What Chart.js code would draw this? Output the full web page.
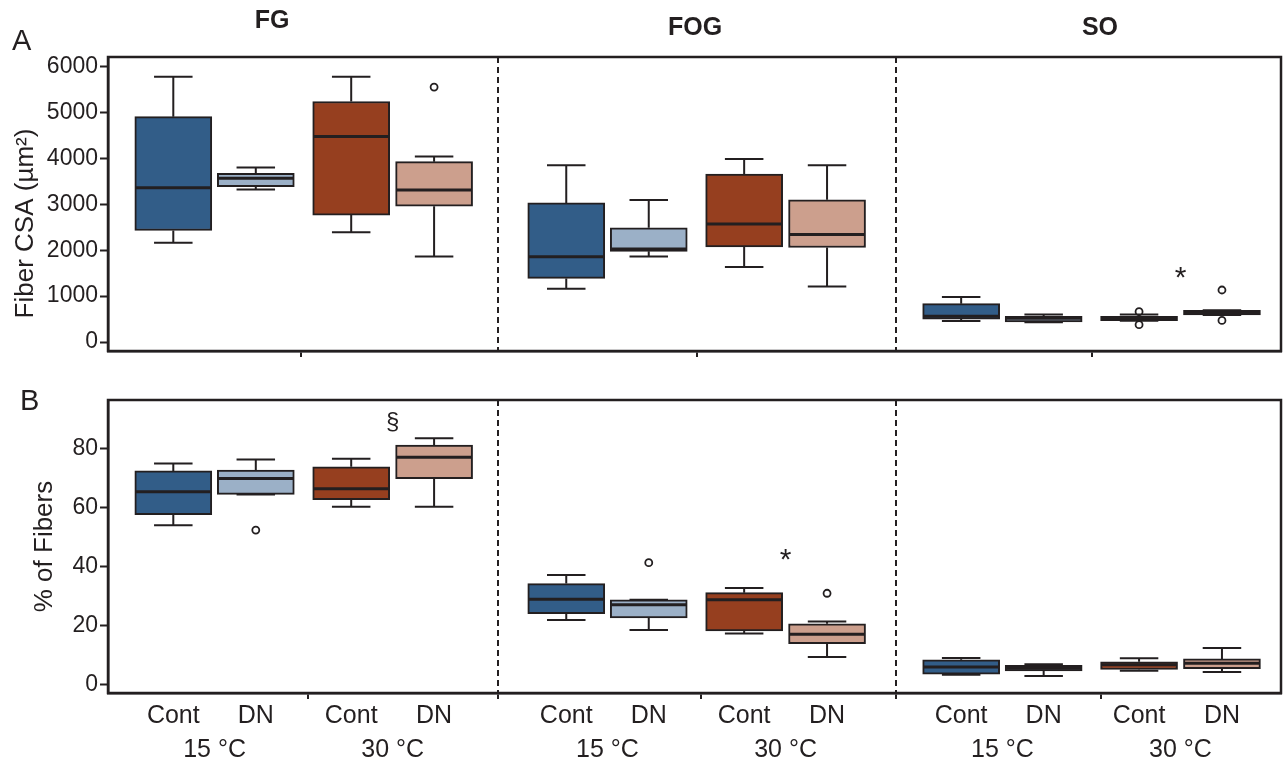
<!DOCTYPE html>
<html>
<head>
<meta charset="utf-8">
<script src="https://cdn.jsdelivr.net/npm/chart.js@4.4.1/dist/chart.umd.min.js"></script>
<style>
  body { margin: 0; background: #fff; font-family: 'Liberation Sans', Arial, sans-serif; color: #231f20; }
  #wrap { position: relative; width: 1283px; height: 765px; overflow: hidden; }
  canvas { position: absolute; left: 0; }
  #csaChart { top: 0; }
  #pctChart { top: 365px; }
  .lbl { position: absolute; line-height: 1; white-space: nowrap; }
  .panel { font-size: 29px; }
  .type { font-size: 25px; font-weight: bold; transform: translateX(-50%); }
</style>
</head>
<body>
<div id="wrap">
  <canvas id="csaChart" width="1283" height="370"></canvas>
  <canvas id="pctChart" width="1283" height="400"></canvas>
  <div class="lbl panel" style="left:12px;top:26px">A</div>
  <div class="lbl panel" style="left:20px;top:386px">B</div>
  <div class="lbl type" style="left:272px;top:7px">FG</div>
  <div class="lbl type" style="left:695px;top:14px">FOG</div>
  <div class="lbl type" style="left:1100px;top:14px">SO</div>
</div>
<script>
var fiberTypes = ['FG', 'FOG', 'SO'];
var groups = ['Cont', 'DN', 'Cont', 'DN'];
var temps = ['15 °C', '30 °C'];
var csaTicks = [0, 1000, 2000, 3000, 4000, 5000, 6000];
var pctTicks = [0, 20, 40, 60, 80];

// each box: [low whisker, q1, median, q3, high whisker]
// order: Cont 15, DN 15, Cont 30, DN 30
var csaFG  = [[2165, 2430, 3360, 4910, 5780], [3325, 3385, 3570, 3675, 3800], [2390, 2765, 4480, 5240, 5780], [1865, 2960, 3310, 3930, 4040]];
var csaFOG = [[1160, 1385, 1860, 3030, 3850], [1865, 1975, 2025, 2490, 3095], [1635, 2070, 2570, 3660, 3985], [1210, 2060, 2340, 3100, 3850]];
var csaSO  = [[460, 500, 560, 835, 980], [430, 440, 520, 560, 600], [465, 465, 515, 560, 600], [590, 590, 640, 690, 690]];
var csaOutFG  = [[], [], [], [5555]];
var csaOutFOG = [[], [], [], []];
var csaOutSO  = [[], [], [660, 377], [1133, 470]];
var csaMarks = [['SO', '*', 1490]];

var pctFG  = [[54.0, 57.6, 65.4, 72.5, 75.0], [64.5, 64.5, 69.9, 72.8, 76.4], [60.3, 62.7, 66.4, 73.9, 76.6], [60.3, 69.9, 77.1, 81.3, 83.6]];
var pctFOG = [[21.8, 24.0, 28.9, 34.2, 37.1], [18.4, 22.5, 27.0, 28.7, 28.7], [17.2, 18.1, 28.7, 31.1, 32.7], [9.2, 13.8, 17.0, 20.5, 21.3]];
var pctSO  = [[3.2, 3.4, 5.8, 8.3, 8.9], [2.8, 4.5, 5.4, 6.4, 6.8], [4.6, 5.0, 6.6, 7.6, 8.8], [4.1, 5.3, 7.1, 8.6, 12.3]];
var pctOutFG  = [[], [52.4], [], []];
var pctOutFOG = [[], [41.3], [], [30.9]];
var pctOutSO  = [[], [], [], []];
var pctMarks = [['FG', '§', 88.9], ['FOG', '*', 43.7]];

var ink = '#231f20';
var clear = 'rgba(0,0,0,0)';
var fills = ['#325d88', '#9bb0c7', '#963f1f', '#cc9f8d'];
var font = "'Liberation Sans', Arial, sans-serif";
Chart.defaults.font.family = font;
Chart.defaults.color = ink;

// x layout: each fiber type gets ~10 units, boxes sit at fixed slots inside
var regionStart = [0, 10.05, 20.15];
var slot = [1.67, 3.78, 6.22, 8.34];
var dividers = [9.97, 20.15];
function xPos(t, g) { return regionStart[t] + slot[g]; }
function isDivider(c) { return !!(c && c.tick && dividers.indexOf(c.tick.value) >= 0); }

var boxPlot = {
    id: 'boxPlot',
    afterDatasetsDraw: function (chart) {
        var ctx = chart.ctx;
        var ys = chart.scales.y;
        chart.data.datasets.forEach(function (ds, i) {
            if (!ds.stats) return;
            chart.getDatasetMeta(i).data.forEach(function (bar, j) {
                var s = ds.stats[j];
                var half = bar.width / 2, cap = bar.width / 4;
                var p = s.map(function (v) { return ys.getPixelForValue(v); });
                ctx.save();
                ctx.strokeStyle = ink;
                ctx.lineWidth = 2;
                ctx.beginPath();
                ctx.moveTo(bar.x, p[3]); ctx.lineTo(bar.x, p[4]);
                ctx.moveTo(bar.x, p[1]); ctx.lineTo(bar.x, p[0]);
                ctx.moveTo(bar.x - cap, p[4]); ctx.lineTo(bar.x + cap, p[4]);
                ctx.moveTo(bar.x - cap, p[0]); ctx.lineTo(bar.x + cap, p[0]);
                ctx.stroke();
                ctx.lineWidth = 3;
                ctx.beginPath();
                ctx.moveTo(bar.x - half + 1, p[2]); ctx.lineTo(bar.x + half - 1, p[2]);
                ctx.stroke();
                ctx.restore();
            });
        });
    }
};

var marks = {
    id: 'marks',
    afterDatasetsDraw: function (chart, args, opts) {
        var ctx = chart.ctx;
        var xs = chart.scales.x, ys = chart.scales.y;
        (opts.items || []).forEach(function (m) {
            var t = fiberTypes.indexOf(m[0]);
            var x = xs.getPixelForValue((xPos(t, 2) + xPos(t, 3)) / 2);
            var y = ys.getPixelForValue(m[2]);
            ctx.save();
            ctx.fillStyle = ink;
            ctx.textAlign = 'center';
            if (m[1] === '*') {
                ctx.font = '30px ' + font;
                ctx.textBaseline = 'alphabetic';
                ctx.fillText(m[1], x, y + 13);
            } else {
                ctx.font = '24px ' + font;
                ctx.textBaseline = 'middle';
                ctx.fillText(m[1], x, y);
            }
            ctx.restore();
        });
    }
};

var frame = {
    id: 'frame',
    afterDraw: function (chart) {
        var a = chart.chartArea, ctx = chart.ctx;
        ctx.save();
        ctx.strokeStyle = ink;
        ctx.lineWidth = 2.5;
        ctx.strokeRect(a.left, a.top, a.right - a.left, a.bottom - a.top);
        ctx.restore();
    }
};

function buildDatasets(stats, outs) {
    var sets = groups.map(function (name, g) {
        return {
            type: 'bar',
            label: name,
            data: fiberTypes.map(function (f, t) {
                return { x: xPos(t, g), y: [stats[t][g][1], stats[t][g][3]] };
            }),
            stats: fiberTypes.map(function (f, t) { return stats[t][g]; }),
            backgroundColor: fills[g],
            borderColor: ink,
            borderWidth: 2,
            borderSkipped: false,
            barThickness: 77,
            grouped: false
        };
    });
    var pts = [];
    outs.forEach(function (perType, t) {
        perType.forEach(function (vals, g) {
            vals.forEach(function (v) { pts.push({ x: xPos(t, g), y: v }); });
        });
    });
    sets.push({
        type: 'scatter',
        label: 'outliers',
        data: pts,
        pointRadius: 3.5,
        pointBackgroundColor: '#fff',
        pointBorderColor: ink,
        pointBorderWidth: 1.8
    });
    return sets;
}

function tickSetter(values) {
    var sorted = values.slice().sort(function (a, b) { return a - b; });
    return function (s) { s.ticks = sorted.map(function (v) { return { value: v }; }); };
}

function yAxis(ticks, min, max, title, titlePad) {
    return {
        type: 'linear',
        min: min,
        max: max,
        afterBuildTicks: tickSetter(ticks),
        afterFit: function (s) { s.width = 108; },
        ticks: { font: { size: 23 }, color: ink, padding: 2, callback: function (v) { return String(v); } },
        grid: { drawOnChartArea: false, tickLength: 8, tickWidth: 2, tickColor: ink },
        border: { color: ink, width: 2.5 },
        title: { display: true, text: title, font: { size: 26 }, color: ink, padding: { top: titlePad, bottom: 0 } }
    };
}

function dividerAxis(groupTicks, showDividerTicks) {
    return {
        type: 'linear',
        min: 0,
        max: 30,
        offset: false,
        weight: 0,
        afterBuildTicks: tickSetter(groupTicks.concat(dividers)),
        afterFit: function (s) { s.height = showDividerTicks ? 8 : 10; },
        ticks: { display: false },
        grid: {
            offset: false,
            lineWidth: 2,
            color: function (c) { return isDivider(c) ? ink : clear; },
            tickColor: function (c) { return (showDividerTicks || !isDivider(c)) ? ink : clear; },
            tickLength: 6,
            tickWidth: 2
        },
        border: { color: ink, width: 2.5, dash: [6, 4] }
    };
}

new Chart(document.getElementById('csaChart'), {
    type: 'bar',
    data: { datasets: buildDatasets([csaFG, csaFOG, csaSO], [csaOutFG, csaOutFOG, csaOutSO]) },
    options: {
        responsive: false,
        animation: false,
        layout: { autoPadding: false, padding: { top: 57, right: 2, bottom: 9, left: 0 } },
        plugins: { legend: { display: false }, tooltip: { enabled: false }, marks: { items: csaMarks } },
        scales: {
            x: dividerAxis([4.94, 15.06, 25.16], false),
            // trailing spaces nudge the rotated title up like in the original
            y: yAxis(csaTicks, -196, 6210, 'Fiber CSA (µm²)\u2003\u2002', 10)
        }
    },
    plugins: [boxPlot, marks, frame]
});

var boxCenters = [], tempCenters = [];
fiberTypes.forEach(function (f, t) {
    groups.forEach(function (g, i) { boxCenters.push(xPos(t, i)); });
    tempCenters.push((xPos(t, 0) + xPos(t, 1)) / 2, (xPos(t, 2) + xPos(t, 3)) / 2);
});

function labelAxis(values, names, weight, height, pad) {
    return {
        type: 'linear',
        position: 'bottom',
        min: 0,
        max: 30,
        offset: false,
        weight: weight,
        afterBuildTicks: tickSetter(values),
        afterFit: function (s) { s.height = height; },
        ticks: {
            font: { size: 25 },
            color: ink,
            padding: pad,
            autoSkip: false,
            maxRotation: 0,
            callback: function (v, i) { return names[i % names.length]; }
        },
        grid: { display: false, drawTicks: false },
        border: { display: false }
    };
}

new Chart(document.getElementById('pctChart'), {
    type: 'bar',
    data: { datasets: buildDatasets([pctFG, pctFOG, pctSO], [pctOutFG, pctOutFOG, pctOutSO]) },
    options: {
        responsive: false,
        animation: false,
        layout: { autoPadding: false, padding: { top: 35, right: 2, bottom: 0, left: 0 } },
        plugins: { legend: { display: false }, tooltip: { enabled: false }, marks: { items: pctMarks } },
        scales: {
            x: dividerAxis([5.12, 15.16, 25.4], true),
            x2: labelAxis(boxCenters, groups, 1, 33, 0),
            x3: labelAxis(tempCenters, temps, 2, 31, 1),
            y: yAxis(pctTicks, -3, 96.6, '% of Fibers', 29)
        }
    },
    plugins: [boxPlot, marks, frame]
});
</script>
</body>
</html>
